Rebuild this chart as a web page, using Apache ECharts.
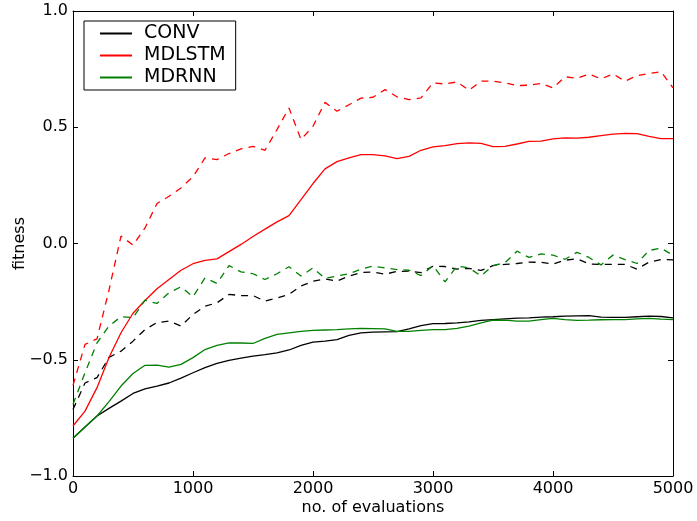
<!DOCTYPE html>
<html>
<head>
<meta charset="utf-8">
<script src="https://cdn.jsdelivr.net/npm/echarts@6/dist/echarts.min.js"></script>
<style>
  html, body { margin: 0; padding: 0; background: #fff; }
  #chart { width: 697px; height: 521px; }
</style>
</head>
<body>
<div id="chart"></div>
<script>
// number of evaluations (x)
const evals = [0, 100, 200, 300, 400, 500, 600, 700, 800, 900,
  1000, 1100, 1200, 1300, 1400, 1500, 1600, 1700, 1800, 1900,
  2000, 2100, 2200, 2300, 2400, 2500, 2600, 2700, 2800, 2900,
  3000, 3100, 3200, 3300, 3400, 3500, 3600, 3700, 3800, 3900,
  4000, 4100, 4200, 4300, 4400, 4500, 4600, 4700, 4800, 4900, 5000];

// solid lines
const convSolid = [-0.838, -0.789, -0.742, -0.709, -0.678, -0.645, -0.625, -0.613, -0.600, -0.579,
  -0.556, -0.534, -0.516, -0.503, -0.493, -0.484, -0.478, -0.470, -0.458, -0.438,
  -0.424, -0.420, -0.413, -0.395, -0.384, -0.381, -0.380, -0.379, -0.367, -0.353,
  -0.345, -0.344, -0.341, -0.337, -0.331, -0.327, -0.324, -0.321, -0.320, -0.317,
  -0.315, -0.312, -0.311, -0.310, -0.317, -0.318, -0.318, -0.315, -0.312, -0.314, -0.320];
const lstmSolid = [-0.785, -0.721, -0.620, -0.490, -0.384, -0.300, -0.245, -0.195, -0.155, -0.115,
  -0.087, -0.073, -0.066, -0.035, -0.004, 0.030, 0.062, 0.093, 0.120, 0.189,
  0.258, 0.321, 0.352, 0.368, 0.382, 0.382, 0.377, 0.365, 0.375, 0.401,
  0.416, 0.421, 0.430, 0.433, 0.431, 0.417, 0.418, 0.428, 0.439, 0.440,
  0.450, 0.454, 0.453, 0.457, 0.464, 0.470, 0.474, 0.473, 0.461, 0.451, 0.451];
const rnnSolid = [-0.838, -0.789, -0.742, -0.680, -0.613, -0.559, -0.524, -0.523, -0.532, -0.520,
  -0.491, -0.456, -0.438, -0.427, -0.428, -0.430, -0.408, -0.391, -0.384, -0.378,
  -0.374, -0.372, -0.370, -0.367, -0.365, -0.366, -0.367, -0.378, -0.378, -0.374,
  -0.370, -0.370, -0.365, -0.355, -0.341, -0.330, -0.330, -0.334, -0.334, -0.327,
  -0.322, -0.327, -0.331, -0.330, -0.328, -0.327, -0.327, -0.324, -0.322, -0.325, -0.327];

// dashed lines
const convDashed = [-0.714, -0.600, -0.577, -0.490, -0.463, -0.420, -0.370, -0.340, -0.334, -0.355,
  -0.305, -0.270, -0.255, -0.219, -0.224, -0.224, -0.248, -0.234, -0.219, -0.183,
  -0.162, -0.152, -0.162, -0.140, -0.125, -0.123, -0.132, -0.120, -0.119, -0.125,
  -0.098, -0.099, -0.110, -0.107, -0.116, -0.095, -0.090, -0.086, -0.080, -0.081,
  -0.088, -0.072, -0.066, -0.088, -0.090, -0.090, -0.090, -0.110, -0.080, -0.069, -0.070];
const lstmDashed = [-0.610, -0.434, -0.410, -0.200, 0.032, -0.007, 0.067, 0.172, 0.203, 0.239,
  0.287, 0.368, 0.361, 0.387, 0.407, 0.418, 0.401, 0.490, 0.583, 0.447,
  0.504, 0.607, 0.569, 0.597, 0.625, 0.629, 0.662, 0.631, 0.619, 0.626,
  0.691, 0.686, 0.695, 0.659, 0.698, 0.698, 0.691, 0.679, 0.681, 0.688,
  0.669, 0.717, 0.711, 0.729, 0.708, 0.729, 0.698, 0.722, 0.731, 0.739, 0.669];
const rnnDashed = [-0.692, -0.556, -0.427, -0.355, -0.315, -0.319, -0.244, -0.258, -0.212, -0.186,
  -0.229, -0.148, -0.172, -0.095, -0.122, -0.130, -0.155, -0.130, -0.100, -0.140,
  -0.105, -0.150, -0.140, -0.130, -0.110, -0.097, -0.105, -0.112, -0.115, -0.138,
  -0.095, -0.165, -0.097, -0.105, -0.140, -0.095, -0.083, -0.033, -0.060, -0.045,
  -0.050, -0.068, -0.038, -0.060, -0.092, -0.050, -0.069, -0.086, -0.030, -0.020, -0.050];

const legendNames = ["CONV", "MDLSTM", "MDRNN"];
const xTicks = [0, 1000, 2000, 3000, 4000, 5000];
const yTicks = [-1.0, -0.5, 0.0, 0.5, 1.0];
const yTickLabels = ["\u22121.0", "\u22120.5", "0.0", "0.5", "1.0"];

const FONT = "DejaVu Sans";
const pairs = (ys) => evals.map((x, i) => [x, ys[i]]);

const mkLine = (name, ys, color, dashed) => ({
  name: name,
  type: "line",
  data: pairs(ys),
  showSymbol: false,
  symbol: "none",
  smooth: false,
  lineStyle: { color: color, width: 1.3, type: dashed ? [7, 6] : "solid" },
  itemStyle: { color: color },
  emphasis: { disabled: true },
});

const axisCommon = {
  axisLine: { show: true, onZero: false, lineStyle: { color: "#000", width: 1 } },
  axisTick: { show: true, inside: true, length: 5, lineStyle: { color: "#000", width: 1 } },
  splitLine: { show: false },
};

const chart = echarts.init(document.getElementById("chart"), null, { renderer: "canvas" });

chart.setOption({
  animation: false,
  backgroundColor: "#fff",
  grid: { left: 73, right: 24, top: 11, bottom: 45, containLabel: false, outerBoundsMode: "none" },
  legend: {
    data: legendNames,
    orient: "vertical",
    left: 84,
    top: 21,
    selectedMode: false,
    backgroundColor: "#fff",
    borderColor: "#000",
    borderWidth: 1,
    borderRadius: 0,
    padding: [3, 10, 3, 16],
    itemGap: 3,
    itemWidth: 32,
    itemHeight: 2,
    icon: "rect",
    textStyle: { fontFamily: FONT, fontSize: 19, color: "#000", padding: [0, 0, 0, 7] },
  },
  xAxis: [
    {
      type: "value", min: 0, max: 5000, interval: 1000,
      name: "no. of evaluations", nameLocation: "middle", nameGap: 24, nameMoveOverlap: false,
      nameTextStyle: { fontFamily: FONT, fontSize: 16, color: "#000" },
      axisLabel: {
        fontFamily: FONT, fontSize: 16, color: "#000", margin: 5,
        formatter: (v) => (xTicks.indexOf(v) >= 0 ? String(v) : ""),
      },
      ...axisCommon,
    },
    {
      type: "value", min: 0, max: 5000, interval: 1000, position: "top",
      axisLabel: { show: false },
      ...axisCommon,
    },
  ],
  yAxis: [
    {
      type: "value", min: -1, max: 1, interval: 0.5,
      name: "fitness", nameLocation: "middle", nameGap: 45, nameMoveOverlap: false,
      nameTextStyle: { fontFamily: FONT, fontSize: 16, color: "#000" },
      axisLabel: {
        fontFamily: FONT, fontSize: 16, color: "#000", margin: 5,
        formatter: (v) => {
          const i = yTicks.findIndex((t) => Math.abs(t - v) < 1e-9);
          return i >= 0 ? yTickLabels[i] : "";
        },
      },
      ...axisCommon,
    },
    {
      type: "value", min: -1, max: 1, interval: 0.5, position: "right",
      axisLabel: { show: false },
      ...axisCommon,
    },
  ],
  series: [
    mkLine("CONV", convSolid, "#000000", false),
    mkLine("CONV dashed", convDashed, "#000000", true),
    mkLine("MDLSTM", lstmSolid, "#ff0000", false),
    mkLine("MDLSTM dashed", lstmDashed, "#ff0000", true),
    mkLine("MDRNN", rnnSolid, "#008000", false),
    mkLine("MDRNN dashed", rnnDashed, "#008000", true),
  ],
});
</script>
</body>
</html>
